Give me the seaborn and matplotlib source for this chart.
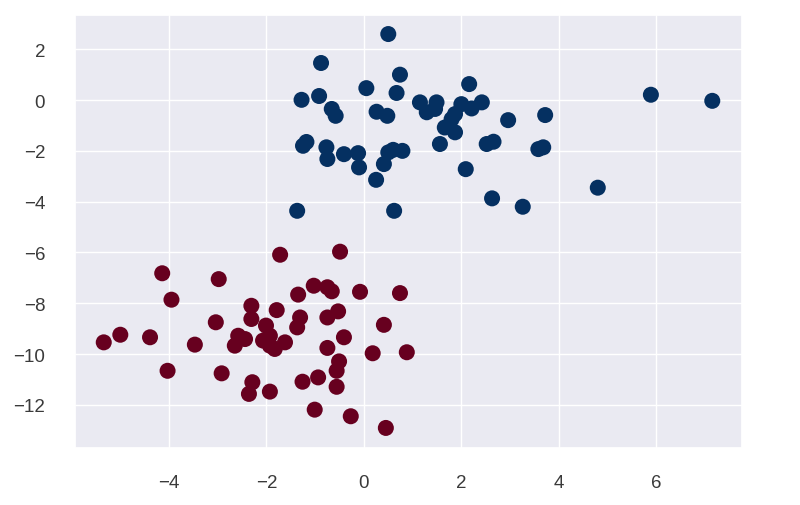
"""Two blob clusters, coloured by class"""

import numpy as np
import pandas as pd
import matplotlib
matplotlib.use('Agg')
import matplotlib.pyplot as plt
import seaborn as sns

# class 1 (blue) points
blue_x = [0.50, -0.88, 0.74, 0.05, 0.67, -1.28, -0.92, -0.66, -0.58, 0.26,
          0.48, -1.18, -1.25, -0.77, -0.75, -0.41, -0.12, -0.10, 0.25, 0.41,
          0.50, 0.60, 0.79, -1.37, 0.62,
          2.16, 1.15, 1.49, 1.29, 1.46, 2.00, 2.21, 2.42, 1.87, 1.80,
          1.66, 1.87, 1.56, 2.96, 3.72, 2.52, 2.66, 3.58, 3.68, 2.09,
          2.63, 3.26, 5.89, 7.15, 4.80]
blue_y = [2.60, 1.46, 1.00, 0.47, 0.28, 0.01, 0.16, -0.35, -0.62, -0.46,
          -0.62, -1.65, -1.80, -1.86, -2.32, -2.13, -2.09, -2.65, -3.14, -2.52,
          -2.06, -1.96, -2.00, -4.36, -4.36,
          0.63, -0.09, -0.09, -0.48, -0.35, -0.16, -0.33, -0.09, -0.55, -0.75,
          -1.08, -1.27, -1.73, -0.79, -0.59, -1.73, -1.64, -1.93, -1.86, -2.72,
          -3.87, -4.20, 0.21, -0.03, -3.45]

# class 0 (red) points
red_x = [-4.14, -2.98, -3.95, -5.34, -5.00, -4.39, -3.47, -3.04, -4.03, -2.92,
         -2.31, -2.31, -2.58, -2.44, -2.65, -2.29, -2.36,
         -1.72, -0.49, -1.03, -0.75, -0.66, -1.35, -0.08, 0.74,
         -1.79, -2.01, -1.31, -1.37, -0.75, -0.53, 0.41,
         -1.93, -1.93, -1.83, -1.62, -2.07, -0.75, -0.41, 0.18, 0.88,
         -0.51, -0.56, -0.56, -0.94, -1.26, -1.93, -1.01, -0.27, 0.45]
red_y = [-6.82, -7.05, -7.86, -9.54, -9.24, -9.34, -9.63, -8.75, -10.66, -10.76,
         -8.10, -8.62, -9.28, -9.41, -9.67, -11.11, -11.57,
         -6.09, -5.97, -7.31, -7.37, -7.53, -7.66, -7.55, -7.60,
         -8.27, -8.88, -8.56, -8.95, -8.56, -8.32, -8.85,
         -9.28, -9.67, -9.80, -9.54, -9.47, -9.76, -9.34, -9.97, -9.93,
         -10.29, -10.66, -11.29, -10.92, -11.09, -11.48, -12.19, -12.45, -12.91]


def main():
    sns.set_theme(style='darkgrid')
    plt.rcParams['font.family'] = ['Liberation Sans', 'DejaVu Sans']

    data = pd.DataFrame({
        'x': red_x + blue_x,
        'y': red_y + blue_y,
        'label': [0] * len(red_x) + [1] * len(blue_x),
    })

    fig = plt.figure(figsize=(8, 5.06), dpi=100)
    ax = fig.add_axes([75 / 800, 1 - 449 / 506, 667 / 800, 433 / 506])

    sns.scatterplot(data=data, x='x', y='y', hue='label',
                    palette={0: '#67001f', 1: '#053061'},
                    s=133, linewidth=0, legend=False, ax=ax)

    ax.set_xlim(-5.93, 7.76)
    ax.set_ylim(-13.70, 3.35)
    ax.set_xticks([-4, -2, 0, 2, 4, 6])
    ax.set_yticks([2, 0, -2, -4, -6, -8, -10, -12])
    ax.set_xlabel('')
    ax.set_ylabel('')
    ax.tick_params(axis='x', labelsize=13.5, pad=13, colors='#3a3a3a')
    ax.tick_params(axis='y', labelsize=13.5, pad=15.5, colors='#3a3a3a')

    fig.savefig('out.png', dpi=100)


if __name__ == "__main__":
    main()
